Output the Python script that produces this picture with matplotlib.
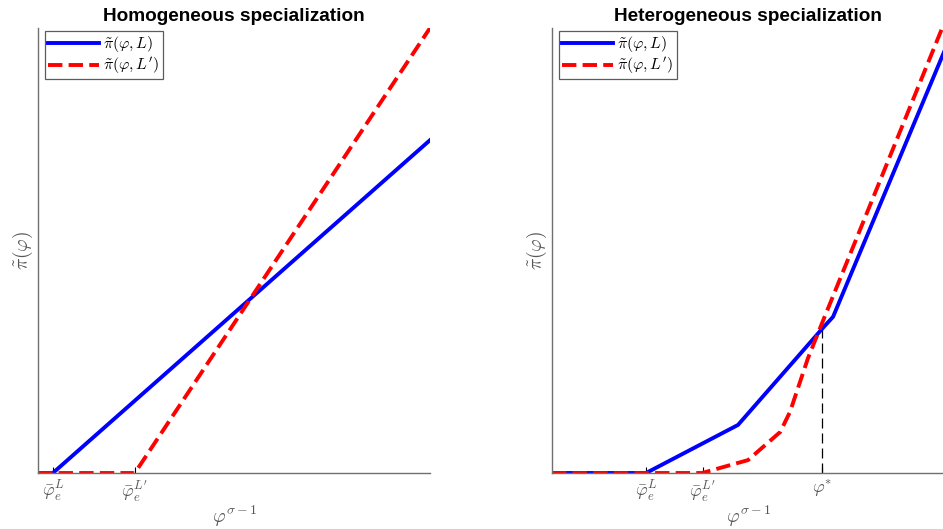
import matplotlib
matplotlib.use("Agg")
import matplotlib.pyplot as plt

plt.rcParams['mathtext.fontset'] = 'cm'
plt.rcParams['font.family'] = ['Liberation Sans', 'DejaVu Sans']

# ---- data (normalised units) ----
# Homogeneous specialization
hom_blue_x = [0.0, 0.038, 1.0]
hom_blue_y = [0.0, 0.0, 0.748]
hom_red_x = [0.0, 0.247, 1.0]
hom_red_y = [0.0, 0.0, 1.0]
hom_ticks = [0.038, 0.247]
hom_ticklabels = [r'$\bar{\varphi}_e^{L}$', r"$\bar{\varphi}_e^{L'}$"]

# Heterogeneous specialization
het_blue_x = [0.0, 0.240, 0.4745, 0.691, 0.717, 1.0]
het_blue_y = [0.0, 0.0, 0.108, 0.326, 0.351, 0.946]
het_red_x = [0.0, 0.383, 0.5, 0.582, 0.607, 0.653, 0.689, 1.0]
het_red_y = [0.0, 0.0, 0.029, 0.092, 0.137, 0.258, 0.337, 1.01]
het_ticks = [0.240, 0.385, 0.689]
het_ticklabels = [r'$\bar{\varphi}_e^{L}$', r"$\bar{\varphi}_e^{L'}$", r'$\varphi^{*}$']
phi_star = 0.689
phi_star_y = 0.337

titles = ['Homogeneous specialization', 'Heterogeneous specialization']
leg_labels = [r'$\tilde{\pi}(\varphi, L)$', r"$\tilde{\pi}(\varphi, L')$"]
xlabel = r'$\varphi^{\sigma-1}$'
ylabel = r'$\tilde{\pi}(\varphi)$'

W, H = 943, 529
fig = plt.figure(figsize=(W / 100, H / 100), dpi=100)

def make_axes(x0px):
    return fig.add_axes([x0px / W, (H - 473) / H, 392 / W, 445 / H])

axL = make_axes(38)
axR = make_axes(552)

gray = '#555555'

def style(ax, ticks, labels, title):
    ax.set_xlim(0, 1)
    ax.set_ylim(0, 1)
    for s in ['top', 'right']:
        ax.spines[s].set_visible(False)
    for s in ['left', 'bottom']:
        ax.spines[s].set_color('#707070')
        ax.spines[s].set_linewidth(1.0)
    ax.set_xticks(ticks)
    ax.set_xticklabels(labels, fontsize=13, color=gray)
    ax.tick_params(axis='x', direction='in', length=4, width=0.8, color='black', pad=4)
    ax.set_yticks([])
    ax.set_xlabel(xlabel, fontsize=14, color=gray, labelpad=0)
    ax.set_ylabel(ylabel, fontsize=14, color=gray, labelpad=2)
    ax.set_title(title, fontsize=13.7, fontweight='bold', pad=5)
    leg = ax.legend(loc='upper left', bbox_to_anchor=(7 / 392, 1 - 3 / 445), borderaxespad=0,
                    fontsize=11.5, frameon=True, fancybox=False, handlelength=3.2,
                    handletextpad=0.25, borderpad=0.2, labelspacing=0.05)
    leg.get_frame().set_edgecolor('#333333')
    leg.get_frame().set_linewidth(0.9)

axL.plot(hom_blue_x, hom_blue_y, color='#0000ff', lw=2.8, label=leg_labels[0], solid_joinstyle='miter')
axL.plot(hom_red_x, hom_red_y, color='#ff0000', lw=2.8, ls='--', label=leg_labels[1])
style(axL, hom_ticks, hom_ticklabels, titles[0])

axR.plot([phi_star, phi_star], [0, phi_star_y], color='black', lw=0.9, ls=(0, (8, 4)))
axR.plot(het_blue_x, het_blue_y, color='#0000ff', lw=2.8, label=leg_labels[0])
axR.plot(het_red_x, het_red_y, color='#ff0000', lw=2.8, ls='--', label=leg_labels[1])
style(axR, het_ticks, het_ticklabels, titles[1])

fig.savefig('out.png', dpi=100)
